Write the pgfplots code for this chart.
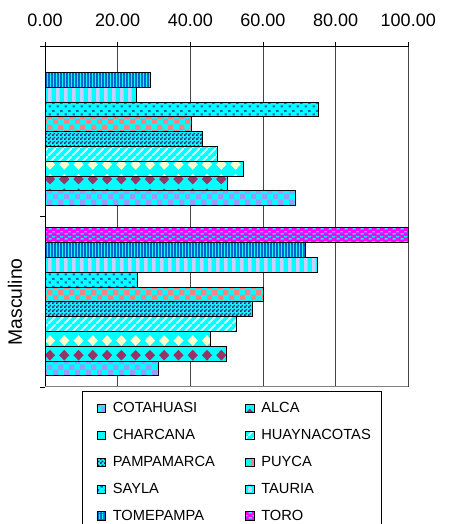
\documentclass[border=0pt]{standalone}
\usepackage{fontspec}
\setmainfont{Liberation Sans}
\usepackage{pgfplots}
\pgfplotsset{compat=1.18}
\usetikzlibrary{patterns}

\definecolor{aqua}{HTML}{00FFFF}
\definecolor{lav}{HTML}{9999FF}
\definecolor{plum}{HTML}{993366}
\definecolor{ivory}{HTML}{FFFFCC}
\definecolor{dpurple}{HTML}{660066}
\definecolor{salmon}{HTML}{FF8080}
\definecolor{oblue}{HTML}{0066CC}
\definecolor{paleblue}{HTML}{CCCCFF}
\definecolor{mag}{HTML}{FF00FF}

% diamond tiles, like the Excel fills
\pgfdeclarepatternformonly{diamonds}{\pgfpoint{-0.1pt}{-0.1pt}}{\pgfpoint{10.8pt}{11.1pt}}{\pgfpoint{10.7pt}{11pt}}{
  \pgfpathmoveto{\pgfpoint{5.35pt}{1.5pt}}
  \pgfpathlineto{\pgfpoint{9.2pt}{5.5pt}}
  \pgfpathlineto{\pgfpoint{5.35pt}{9.5pt}}
  \pgfpathlineto{\pgfpoint{1.5pt}{5.5pt}}
  \pgfpathclose\pgfusepath{fill}}
\pgfdeclarepatternformonly{bigchecker}{\pgfpointorigin}{\pgfpoint{8pt}{8pt}}{\pgfpoint{8pt}{8pt}}{
  \pgfpathrectangle{\pgfpointorigin}{\pgfpoint{4pt}{4pt}}
  \pgfpathrectangle{\pgfpoint{4pt}{4pt}}{\pgfpoint{4pt}{4pt}}
  \pgfusepath{fill}}
\pgfdeclarepatternformonly{smallchecker}{\pgfpointorigin}{\pgfpoint{3pt}{3pt}}{\pgfpoint{3pt}{3pt}}{
  \pgfpathrectangle{\pgfpointorigin}{\pgfpoint{1.5pt}{1.5pt}}
  \pgfpathrectangle{\pgfpoint{1.5pt}{1.5pt}}{\pgfpoint{1.5pt}{1.5pt}}
  \pgfusepath{fill}}
\pgfdeclarepatternformonly{widevert}{\pgfpointorigin}{\pgfpoint{6pt}{4pt}}{\pgfpoint{6pt}{4pt}}{
  \pgfpathrectangle{\pgfpointorigin}{\pgfpoint{3pt}{4pt}}
  \pgfusepath{fill}}
\pgfdeclarepatternformonly{narrowvert}{\pgfpointorigin}{\pgfpoint{2.4pt}{4pt}}{\pgfpoint{2.4pt}{4pt}}{
  \pgfpathrectangle{\pgfpointorigin}{\pgfpoint{0.9pt}{4pt}}
  \pgfusepath{fill}}
\pgfdeclarepatternformonly{dashrows}{\pgfpointorigin}{\pgfpoint{6pt}{3.6pt}}{\pgfpoint{6pt}{3.6pt}}{
  \pgfpathrectangle{\pgfpoint{0.5pt}{1pt}}{\pgfpoint{2.5pt}{1.2pt}}
  \pgfpathrectangle{\pgfpoint{3.5pt}{2.8pt}}{\pgfpoint{2.5pt}{0.8pt}}
  \pgfusepath{fill}}
\pgfdeclarepatternformonly{blobs}{\pgfpointorigin}{\pgfpoint{6pt}{6pt}}{\pgfpoint{6pt}{6pt}}{
  \pgfpathrectangle{\pgfpoint{0.5pt}{0.5pt}}{\pgfpoint{2pt}{1.8pt}}
  \pgfpathrectangle{\pgfpoint{3.5pt}{3.4pt}}{\pgfpoint{2pt}{1.8pt}}
  \pgfusepath{fill}}
\pgfdeclarepatternformonly{slash}{\pgfpointorigin}{\pgfpoint{6pt}{6pt}}{\pgfpoint{6pt}{6pt}}{
  \pgfsetlinewidth{1.6pt}
  \pgfpathmoveto{\pgfpoint{-1pt}{-1pt}}\pgfpathlineto{\pgfpoint{7pt}{7pt}}
  \pgfusepath{stroke}}

\begin{document}
\begin{tikzpicture}
\begin{axis}[
  name=a,
  width=272.25pt, height=255pt, scale only axis,
  xbar=0pt, bar width=0.0869,
  xmin=0, xmax=100, ymin=-0.5, ymax=1.5,
  axis x line*=top, axis y line*=left,
  axis line style={black, line width=0.6pt, -},
  tick align=outside,
  major tick length=3.5pt,
  tick style={black, line width=0.6pt},
  xtick={0,20,40,60,80,100},
  xticklabel style={anchor=south, inner sep=0pt, yshift=11pt, font=\fontsize{13.5}{15}\selectfont,
    /pgf/number format/.cd, fixed, fixed zerofill, precision=2, assume math mode=true},
  xmajorgrids,
  grid style={gray!55!black, line width=0.6pt},
  ytick={-0.5,0.5,1.5}, yticklabels={},
  extra y ticks={0}, extra y tick labels={Masculino},
  extra y tick style={major tick length=0pt,
    yticklabel style={rotate=90, anchor=south, inner sep=0pt, yshift=17pt,
      font=\fontsize{14.5}{16}\selectfont}},
  legend columns=2,
  legend cell align=left,
  legend style={at={(axis description cs:0.102,-0.011)}, anchor=north west,
    draw=black, line width=0.6pt, font=\fontsize{11}{13}\selectfont,
    row sep=7pt, inner xsep=6pt, inner ysep=6.5pt,
    /tikz/every even column/.append style={column sep=16pt}},
  legend image code/.code={\path (0pt,0pt) (14pt,0pt);
    \draw[#1, line width=0.6pt] (4.5pt,-3.25pt) rectangle (11pt,3.25pt);},
  every axis plot/.append style={draw=black, line width=0.7pt},
]
\addplot[fill=aqua, postaction={pattern=bigchecker, pattern color=lav}] coordinates {(31.3,0) (69.0,1)};
\addplot[fill=aqua, postaction={pattern=diamonds, pattern color=plum}] coordinates {(50.0,0) (50.2,1)};
\addplot[fill=aqua, postaction={pattern=diamonds, pattern color=ivory}] coordinates {(45.6,0) (54.5,1)};
\addplot[fill=aqua, postaction={pattern=slash, pattern color=white!75!aqua}] coordinates {(52.6,0) (47.6,1)};
\addplot[fill=aqua, postaction={pattern=smallchecker, pattern color=dpurple}] coordinates {(57.2,0) (43.4,1)};
\addplot[fill=aqua, postaction={pattern=bigchecker, pattern color=salmon}] coordinates {(60.0,0) (40.2,1)};
\addplot[fill=aqua, postaction={pattern=blobs, pattern color=oblue}] coordinates {(25.4,0) (75.2,1)};
\addplot[fill=aqua, postaction={pattern=widevert, pattern color=paleblue}] coordinates {(75.0,0) (25.1,1)};
\addplot[fill=oblue, postaction={pattern=narrowvert, pattern color=aqua}] coordinates {(71.6,0) (29.0,1)};
\addplot[fill=mag, postaction={pattern=dashrows, pattern color=aqua}] coordinates {(100,0)};
\legend{COTAHUASI, ALCA, CHARCANA, HUAYNACOTAS, PAMPAMARCA, PUYCA, SAYLA, TAURIA, TOMEPAMPA, TORO}
\draw[gray, line width=0.8pt] (axis cs:0,-0.5) -- (axis cs:100,-0.5);
\end{axis}
% frame the page like the reference crop (legend runs off the bottom edge)
\pgfresetboundingbox
\path ([xshift=-33.75pt,yshift=-102.75pt]a.south west) rectangle ([xshift=31.5pt,yshift=35pt]a.north east);
\end{tikzpicture}
\end{document}
